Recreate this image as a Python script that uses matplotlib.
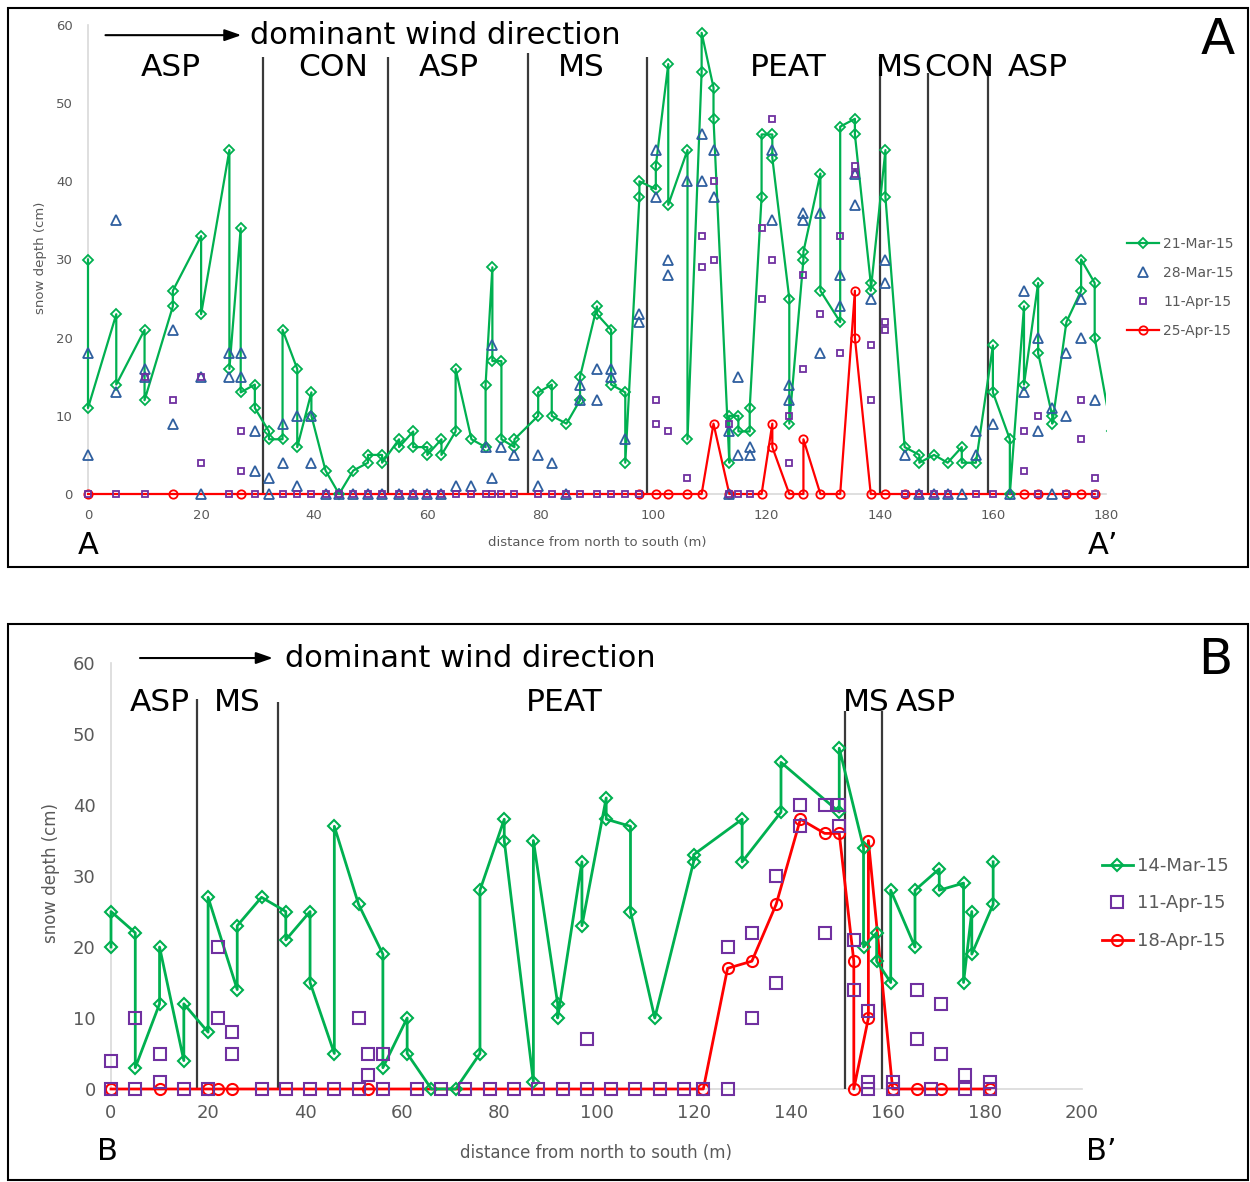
import matplotlib
matplotlib.use("Agg")
import matplotlib.pyplot as plt
from matplotlib.patches import Rectangle

# ---------------- panel A data (transect A-A') ----------------
A_mar21_x = [0, 0, 5, 5, 10, 10, 15, 15, 20, 20, 25, 25, 27, 27, 29.5, 29.5, 32, 32,
             34.4, 34.4, 37, 37, 39.5, 39.5, 42, 44.4, 46.9, 49.5, 49.5, 52, 52, 55, 55,
             57.5, 57.5, 60, 60, 62.5, 62.5, 65, 65, 67.8, 70.3, 70.3, 71.5, 71.5,
             73.1, 73.1, 75.4, 75.4, 79.6, 79.6, 82, 82, 84.6, 87, 87, 90, 90, 92.5, 92.5,
             95, 95, 97.5, 97.5, 100.4, 100.4, 102.6, 102.6, 106, 106, 108.5, 108.5,
             110.6, 110.6, 113.4, 113.4, 115, 115, 117, 117, 119.1, 119.1, 121, 121,
             124, 124, 126.5, 126.5, 129.5, 129.5, 133, 133, 135.6, 135.6, 138.4, 138.4,
             141, 141, 144.4, 147, 147, 149.6, 152, 154.5, 154.5, 157, 160, 160, 163, 163,
             165.5, 165.5, 168, 168, 170.5, 170.5, 173, 175.6, 175.6, 178, 178, 181]
A_mar21_y = [30, 11, 23, 14, 21, 12, 24, 26, 33, 23, 44, 16, 34, 13, 14, 11, 8, 7,
             7, 21, 16, 6, 13, 10, 3, 0, 3, 4, 5, 5, 4, 7, 6,
             8, 6, 6, 5, 7, 5, 8, 16, 7, 6, 14, 29, 17,
             17, 7, 6, 7, 10, 13, 14, 10, 9, 12, 15, 24, 23, 21, 14,
             13, 4, 38, 40, 39, 42, 55, 37, 44, 7, 54, 59,
             52, 48, 4, 10, 10, 8, 8, 11, 38, 46, 46, 43,
             25, 9, 30, 31, 41, 26, 22, 47, 48, 46, 27, 26,
             44, 38, 6, 5, 4, 5, 4, 6, 4, 4, 19, 13, 7, 0,
             24, 14, 27, 18, 10, 9, 22, 26, 30, 27, 20, 8]

A_mar28_x = [0, 0, 5, 5, 10, 10, 15, 15, 20, 20, 25, 25, 27, 27, 29.5, 29.5, 32, 32,
             34.4, 34.4, 37, 37, 39.5, 39.5, 42, 44.4, 46.9, 49.5, 52, 55, 57.5, 60, 62.5,
             65, 67.8, 70.3, 71.5, 71.5, 73.1, 75.4, 79.6, 79.6, 82, 84.6, 87, 87, 90, 90,
             92.5, 92.5, 95, 97.5, 97.5, 100.4, 100.4, 102.6, 102.6, 106, 108.5, 108.5,
             110.6, 110.6, 113.4, 113.4, 115, 115, 117, 117, 121, 121, 124, 124,
             126.5, 126.5, 129.5, 129.5, 133, 133, 135.6, 135.6, 138.4, 141, 141, 144.4,
             147, 149.6, 152, 154.5, 157, 157, 160, 163, 165.5, 165.5, 168, 168,
             170.5, 170.5, 173, 173, 175.6, 175.6, 178]
A_mar28_y = [18, 5, 35, 13, 16, 15, 21, 9, 15, 0, 18, 15, 18, 15, 8, 3, 2, 0,
             9, 4, 10, 1, 10, 4, 0, 0, 0, 0, 0, 0, 0, 0, 0,
             1, 1, 6, 19, 2, 6, 5, 5, 1, 4, 0, 14, 12, 16, 12,
             16, 15, 7, 23, 22, 44, 38, 30, 28, 40, 46, 40,
             44, 38, 8, 0, 15, 5, 6, 5, 44, 35, 14, 12,
             36, 35, 36, 18, 28, 24, 41, 37, 25, 30, 27, 5,
             0, 0, 0, 0, 8, 5, 9, 0, 26, 13, 20, 8,
             11, 0, 18, 10, 25, 20, 12]

A_apr11_x = [0, 5, 10, 10, 15, 20, 20, 25, 27, 27, 29.5, 34.4, 37, 39.5, 42, 44.4, 46.9,
             49.5, 52, 55, 57.5, 60, 62.5, 65, 67.8, 70.3, 71.5, 73.1, 75.4, 79.6, 82,
             84.6, 87, 90, 92.5, 95, 97.5, 100.4, 100.4, 102.6, 106, 108.5, 108.5,
             110.6, 110.6, 113.4, 113.4, 115, 117, 119.1, 119.1, 121, 121, 124, 124,
             126.5, 126.5, 129.5, 133, 133, 135.6, 135.6, 138.4, 138.4, 141, 141,
             144.4, 147, 149.6, 152, 157, 160, 165.5, 165.5, 168, 168, 173,
             175.6, 175.6, 178, 178]
A_apr11_y = [0, 0, 0, 15, 12, 15, 4, 0, 8, 3, 0, 0, 0, 0, 0, 0, 0,
             0, 0, 0, 0, 0, 0, 0, 0, 0, 0, 0, 0, 0, 0,
             0, 0, 0, 0, 0, 0, 12, 9, 8, 2, 33, 29,
             40, 30, 9, 0, 0, 0, 34, 25, 48, 30, 10, 4,
             28, 16, 23, 33, 18, 42, 41, 19, 12, 22, 21,
             0, 0, 0, 0, 0, 0, 8, 3, 10, 0, 0,
             12, 7, 2, 0]

A_apr25_x = [0, 15, 27, 97.5, 100.4, 102.6, 106, 108.5, 110.6, 113.4, 119.1, 121, 121,
             124, 126.5, 126.5, 129.5, 133, 135.6, 135.6, 138.4, 141, 144.4,
             165.5, 168, 173, 175.6, 178]
A_apr25_y = [0, 0, 0, 0, 0, 0, 0, 0, 9, 0, 0, 9, 6,
             0, 0, 7, 0, 0, 26, 20, 0, 0, 0,
             0, 0, 0, 0, 0]

A_bounds = [30.9, 53.0, 77.8, 98.8, 140.0, 148.5, 159.1]
A_bound_tops = [55.9, 55.9, 56.4, 55.9, 55.9, 53.8, 54.2]
A_zones = ["ASP", "CON", "ASP", "MS", "PEAT", "MS", "CON", "ASP"]
A_zone_x = [14.7, 43.3, 63.8, 87.3, 123.9, 143.4, 154.0, 167.9]

# ---------------- panel B data (transect B-B') ----------------
B_mar14_x = [0, 0, 5, 5, 10, 10, 15, 15, 20, 20, 26, 26, 31, 36, 36, 41, 41, 46, 46,
             51, 56, 56, 61, 61, 66, 71, 76, 76, 81, 81, 87, 87, 92, 92, 97, 97,
             102, 102, 107, 107, 112, 120, 120, 130, 130, 138, 138, 150, 150,
             155, 155, 157.7, 157.7, 160.6, 160.6, 165.6, 165.6, 170.6, 170.6,
             175.6, 175.6, 177.3, 177.3, 181.7, 181.7]
B_mar14_y = [20, 25, 22, 3, 12, 20, 4, 12, 8, 27, 14, 23, 27, 25, 21, 25, 15, 5, 37,
             26, 19, 3, 10, 5, 0, 0, 5, 28, 38, 35, 1, 35, 12, 10, 32, 23,
             41, 38, 37, 25, 10, 32, 33, 38, 32, 39, 46, 39, 48,
             34, 20, 22, 18, 15, 28, 20, 28, 31, 28,
             29, 15, 25, 19, 26, 32]

B_apr11_x = [0, 0, 5, 5, 10, 10, 15, 20, 22, 22, 25, 25, 31, 36, 41, 46, 51, 51,
             53, 53, 56, 56, 63, 68, 73, 78, 83, 88, 93, 98, 98, 103, 108, 113, 118,
             122, 127, 127, 132, 132, 137, 137, 142, 142, 147, 147, 150, 150,
             153, 153, 156, 156, 156, 161, 161, 166, 166, 169, 171, 171, 176, 176,
             181, 181]
B_apr11_y = [4, 0, 10, 0, 5, 1, 0, 0, 20, 10, 8, 5, 0, 0, 0, 0, 10, 0,
             5, 2, 5, 0, 0, 0, 0, 0, 0, 0, 0, 7, 0, 0, 0, 0, 0,
             0, 20, 0, 22, 10, 30, 15, 40, 37, 40, 22, 40, 37,
             21, 14, 11, 1, 0, 1, 0, 14, 7, 0, 12, 5, 2, 0,
             1, 0]

B_apr18_x = [0, 10, 20, 22, 25, 53, 122, 127, 132, 137, 142, 147, 150, 153, 153,
             156, 156, 161, 166, 171, 181]
B_apr18_y = [0, 0, 0, 0, 0, 0, 0, 17, 18, 26, 38, 36, 36, 18, 0,
             10, 35, 0, 0, 0, 0]

B_bounds = [17.8, 34.5, 151.2, 158.9]
B_bound_tops = [55.0, 54.5, 53.3, 53.3]
B_zones = ["ASP", "MS", "PEAT", "MS", "ASP"]
B_zone_x = [10.1, 26.0, 93.3, 155.6, 167.8]

GREEN = "#00b050"
BLUE = "#2f5f9f"
PURPLE = "#7030a0"
RED = "#ff0000"
GREY = "#595959"

W, H = 1250, 1182
fig = plt.figure(figsize=(W / 100, H / 100), dpi=100)


def fx(px):
    return px / W


def fy(py):
    return 1 - py / H


def style_axes(ax, xmax, tick_size, pad):
    ax.set_xlim(0, xmax)
    ax.set_ylim(0, 60)
    ax.set_xticks(range(0, xmax + 1, 20))
    ax.set_yticks(range(0, 61, 10))
    for s in ["top", "right"]:
        ax.spines[s].set_visible(False)
    for s in ["left", "bottom"]:
        ax.spines[s].set_color("#d9d9d9")
        ax.spines[s].set_linewidth(1.2)
        ax.spines[s].set_zorder(0.5)
    ax.tick_params(length=0, labelsize=tick_size, colors=GREY, pad=pad)
    ax.patch.set_alpha(0)


def loose_clip(ax, artists):
    # clip at the right edge only, so marks sitting on zero are not cut in half
    box = Rectangle((-0.05, -0.05), 1.05, 1.2, transform=ax.transAxes,
                    facecolor="none", edgecolor="none")
    for a in artists:
        a.set_clip_path(box)


# ---------------- panel A ----------------
axA = fig.add_axes([fx(88), fy(494), fx(1018), 469 / H])
style_axes(axA, 180, 9.5, 11)
axA.vlines(A_bounds, 0, A_bound_tops, color="#3a3a3a", lw=1.6, zorder=1)
la = axA.plot(A_apr25_x, A_apr25_y, color=RED, lw=1.6, marker="o", ms=6, mfc="none",
              mew=1.3, label="25-Apr-15", zorder=2)
lb = axA.plot(A_mar21_x, A_mar21_y, color=GREEN, lw=1.6, marker="D", ms=5.5,
              mfc="none", mew=1.3, label="21-Mar-15", zorder=3)
lc = axA.plot(A_mar28_x, A_mar28_y, ls="none", color=BLUE, marker="^", ms=7.5,
              mfc="none", mew=1.3, label="28-Mar-15", zorder=4)
ld = axA.plot(A_apr11_x, A_apr11_y, ls="none", color=PURPLE, marker="s", ms=5,
              mfc="none", mew=1.3, label="11-Apr-15", zorder=4)
loose_clip(axA, la + lb + lc + ld)
axA.set_xlabel("distance from north to south (m)", fontsize=9.5, color=GREY)
axA.set_ylabel("snow depth (cm)", fontsize=9.5, color=GREY)
axA.xaxis.set_label_coords(0.5, -0.09)
axA.yaxis.set_label_coords(-0.0405, 0.503)

for name, x in zip(A_zones, A_zone_x):
    axA.text(x, 54.6, name, fontsize=22.5, ha="center", va="center", clip_on=False)
axA.annotate("", xy=(27.6, 58.7), xytext=(2.6, 58.7),
             arrowprops=dict(arrowstyle="-|>,head_length=1.0,head_width=0.35",
                             lw=1.5, color="black"), annotation_clip=False)
axA.text(28.6, 58.7, "dominant wind direction", fontsize=22, ha="left", va="center",
         clip_on=False)

hA, lA = axA.get_legend_handles_labels()
orderA = [lA.index(k) for k in ["21-Mar-15", "28-Mar-15", "11-Apr-15", "25-Apr-15"]]
legA = axA.legend([hA[i] for i in orderA], [lA[i] for i in orderA], loc="upper left",
                  bbox_to_anchor=(fx(1127), fy(237)), bbox_transform=fig.transFigure,
                  frameon=False, fontsize=10, handlelength=2.3, handletextpad=0.3,
                  labelspacing=1.08, borderpad=0, borderaxespad=0)
for t in legA.get_texts():
    t.set_color(GREY)

fig.text(fx(1218), fy(40), "A", fontsize=36, ha="center", va="center")
fig.text(fx(88), fy(546), "A", fontsize=22, ha="center", va="center")
fig.text(fx(1103), fy(546), "A\u2019", fontsize=22, ha="center", va="center")

# ---------------- panel B ----------------
axB = fig.add_axes([fx(111), fy(1089), fx(971), 426 / H])
style_axes(axB, 200, 13, 11)
axB.vlines(B_bounds, 0, B_bound_tops, color="#3a3a3a", lw=1.6, zorder=1)
le = axB.plot(B_apr18_x, B_apr18_y, color=RED, lw=2, marker="o", ms=8, mfc="none",
              mew=1.5, label="18-Apr-15", zorder=2)
lf = axB.plot(B_mar14_x, B_mar14_y, color=GREEN, lw=2, marker="D", ms=6.5,
              mfc="none", mew=1.5, label="14-Mar-15", zorder=3)
lg = axB.plot(B_apr11_x, B_apr11_y, ls="none", color=PURPLE, marker="s", ms=8,
              mfc="none", mew=1.5, label="11-Apr-15", zorder=4)
loose_clip(axB, le + lf + lg)
axB.set_xlabel("distance from north to south (m)", fontsize=12, color=GREY)
axB.set_ylabel("snow depth (cm)", fontsize=12, color=GREY)
axB.xaxis.set_label_coords(0.4995, -0.128)
axB.yaxis.set_label_coords(-0.053, 0.507)

for name, x in zip(B_zones, B_zone_x):
    axB.text(x, 54.5, name, fontsize=22.5, ha="center", va="center", clip_on=False)
axB.annotate("", xy=(33.9, 60.7), xytext=(5.4, 60.7),
             arrowprops=dict(arrowstyle="-|>,head_length=1.0,head_width=0.35",
                             lw=1.5, color="black"), annotation_clip=False)
axB.text(35.8, 60.7, "dominant wind direction", fontsize=22, ha="left", va="center",
         clip_on=False)

hB, lB = axB.get_legend_handles_labels()
orderB = [lB.index(k) for k in ["14-Mar-15", "11-Apr-15", "18-Apr-15"]]
legB = axB.legend([hB[i] for i in orderB], [lB[i] for i in orderB], loc="upper left",
                  bbox_to_anchor=(fx(1102), fy(857)), bbox_transform=fig.transFigure,
                  frameon=False, fontsize=13, handlelength=1.7, handletextpad=0.25,
                  labelspacing=1.08, borderpad=0, borderaxespad=0)
for t in legB.get_texts():
    t.set_color(GREY)

fig.text(fx(1215), fy(660), "B", fontsize=36, ha="center", va="center")
fig.text(fx(107), fy(1152), "B", fontsize=22, ha="center", va="center")
fig.text(fx(1101), fy(1152), "B\u2019", fontsize=22, ha="center", va="center")

# panel frames
fig.patches.append(Rectangle((fx(8), fy(567)), fx(1240), 559 / H, fill=False,
                             edgecolor="black", lw=1.5, transform=fig.transFigure))
fig.patches.append(Rectangle((fx(8), fy(1180)), fx(1240), 556 / H, fill=False,
                             edgecolor="black", lw=1.5, transform=fig.transFigure))

fig.savefig("out.png", dpi=100)
